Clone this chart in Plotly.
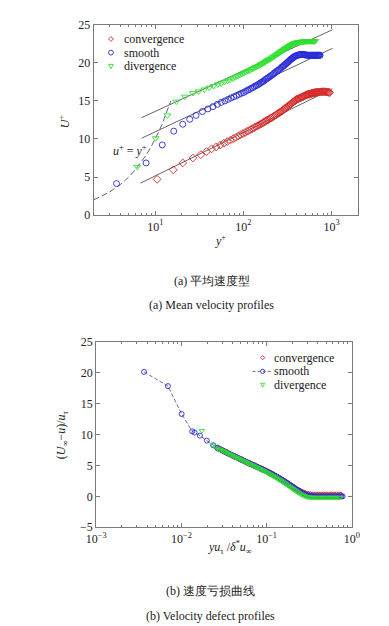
import plotly.graph_objects as go

W, H = 389, 626

# ---------------- (a) mean velocity profiles ----------------
conv_yp = [10.5, 16.0, 20.5, 26.7, 32.8,
           38, 43.5, 49, 54.5, 60, 65.5, 71, 76.5, 82, 87.5, 93, 98.5,
           104, 110, 115, 121, 126, 132, 137, 143, 148, 154, 159, 165, 170, 176, 181, 187, 192, 198,
           205, 212, 219, 226, 233, 240, 247, 254, 261, 268, 275, 282, 289, 296, 303, 310, 317, 324,
           331, 338, 345, 352, 359, 366, 373, 380, 387, 394,
           400, 410, 420, 430, 440, 450, 460, 470, 480, 490, 500, 510, 520, 530, 540, 550, 560, 570,
           580, 590, 600, 610, 620, 630, 640, 650, 660, 670, 680, 690,
           700, 720, 740, 760, 780, 800, 820, 840, 860, 880, 900, 920, 940, 950]
conv_up = [4.7, 5.95, 6.85, 7.5, 7.93,
           8.35, 8.7, 8.95, 9.2, 9.45, 9.65, 9.85, 10.05, 10.2, 10.4, 10.55, 10.7,
           10.85, 11.0, 11.1, 11.25, 11.35, 11.5, 11.6, 11.7, 11.8, 11.9, 12.0, 12.1, 12.2, 12.3, 12.4,
           12.5, 12.55, 12.65,
           12.75, 12.85, 12.95, 13.05, 13.15, 13.25, 13.35, 13.45, 13.55, 13.6, 13.7, 13.8, 13.9, 14.0,
           14.1, 14.15, 14.25, 14.35, 14.45, 14.5, 14.6, 14.7, 14.75, 14.85, 14.9, 15.0, 15.05, 15.15,
           15.2, 15.25, 15.3, 15.35, 15.4, 15.45, 15.5, 15.55, 15.6, 15.65, 15.7, 15.75, 15.8, 15.82,
           15.85, 15.88, 15.9, 15.93, 15.95, 15.97, 16.0, 16.02, 16.04, 16.06, 16.08, 16.1, 16.1, 16.12,
           16.13, 16.14,
           16.15, 16.16, 16.18, 16.2, 16.2, 16.2, 16.2, 16.2, 16.2, 16.18, 16.16, 16.15, 16.13, 16.1]

smooth_yp = [3.64, 7.87, 12.0, 16.2, 20.5, 24.6, 29.0, 34.2,
             39.5, 45, 50.5, 56, 61.5, 67, 72.5, 78, 83.5, 89, 94.5,
             100, 105.5, 111, 116.5, 122, 127.5, 133, 138.5, 144, 149.5, 155, 160.5, 166, 171.5, 177,
             182.5, 188, 193.5,
             200, 207, 214, 221, 228, 235, 242, 249, 256, 263, 270, 277, 284, 291, 298, 305, 312, 319,
             326, 333, 340, 347, 354, 361, 368, 375, 382, 389,
             400, 410, 420, 430, 440, 450, 460, 470, 480, 490, 500, 510, 520, 530, 540, 550, 560, 570,
             580, 590, 600, 610, 620, 630, 640, 650, 660, 670, 680, 690, 700, 710, 720, 730, 740]
smooth_up = [4.14, 6.85, 9.22, 11.03, 11.94, 12.59, 13.1, 13.6,
             13.95, 14.25, 14.55, 14.8, 15.0, 15.2, 15.4, 15.55, 15.7, 15.85, 16.0,
             16.1, 16.25, 16.4, 16.5, 16.65, 16.75, 16.9, 17.0, 17.1, 17.2, 17.35, 17.45, 17.55, 17.65,
             17.8, 17.9, 18.0, 18.1,
             18.2, 18.35, 18.45, 18.6, 18.7, 18.85, 18.95, 19.05, 19.15, 19.25, 19.4, 19.5, 19.6, 19.7,
             19.8, 19.9, 20.0, 20.1, 20.2, 20.3, 20.4, 20.5, 20.55, 20.65, 20.7, 20.8, 20.85, 20.9,
             20.95, 21.0, 21.03, 21.06, 21.08, 21.1, 21.1, 21.1, 21.1, 21.08, 21.05, 21.03, 21.02, 21.0,
             21.0, 21.0, 21.0, 21.0, 21.0, 21.0, 21.0, 21.0, 21.0, 21.0, 21.0, 21.0, 21.0, 21.0, 21.0,
             21.0, 21.0, 21.0, 21.0, 21.0, 21.0]

div_yp = [6.24, 10.1, 13.7, 17.3, 21.7, 26.7, 31,
          36, 41, 46, 51, 56, 61, 66, 71, 76, 81, 86, 91, 96,
          101, 106.5, 112, 117.5, 123, 128.5, 134, 139.5, 145, 150.5, 156, 161.5, 167, 172.5, 178,
          183.5, 189, 194.5,
          201, 208, 215, 222, 229, 236, 243, 250, 257, 264, 271, 278, 285, 292, 299, 306, 313, 320,
          327, 334, 341, 348, 355, 362, 369, 376, 383, 390,
          400, 410, 420, 430, 440, 450, 460, 470, 480, 490, 500, 510, 520, 530, 540, 550, 560, 570,
          580, 590, 600, 610, 620, 630, 640, 650]
div_up = [6.34, 10.09, 13.1, 14.9, 15.56, 16.03, 16.25,
          16.5, 16.75, 16.95, 17.15, 17.3, 17.5, 17.65, 17.8, 17.95, 18.1, 18.25, 18.4, 18.55,
          18.65, 18.8, 18.9, 19.0, 19.15, 19.25, 19.35, 19.45, 19.55, 19.65, 19.75, 19.85, 19.95,
          20.05, 20.15, 20.25, 20.35, 20.45,
          20.5, 20.6, 20.75, 20.85, 20.95, 21.05, 21.15, 21.25, 21.35, 21.45, 21.55, 21.6, 21.7, 21.8,
          21.85, 21.95, 22.0, 22.1, 22.15, 22.2, 22.3, 22.35, 22.4, 22.45, 22.5, 22.55, 22.6, 22.62,
          22.65, 22.68, 22.7, 22.72, 22.74, 22.76, 22.78, 22.8, 22.8, 22.82, 22.82, 22.84, 22.84,
          22.85, 22.85, 22.85, 22.85, 22.85, 22.85, 22.85, 22.85, 22.85, 22.85, 22.85, 22.85, 22.85]

# log-law reference lines (end points)
conv_law_yp = [6.8, 1020]
conv_law_up = [4.2, 16.6]
smooth_law_yp = [7.0, 1020]
smooth_law_up = [10.1, 21.9]
div_law_yp = [7.0, 1020]
div_law_up = [12.8, 24.35]

# viscous sublayer u+ = y+
visc_yp = [2, 2.5, 3, 4, 5, 6, 7, 8, 9, 10, 11, 12, 13, 14, 15]
visc_up = [2, 2.5, 3, 4, 5, 6, 7, 8, 9, 10, 11, 12, 13, 14, 15]

top_xticks = [10, 100, 1000]
top_xticktext = ["10<sup>1</sup>", "10<sup>2</sup>", "10<sup>3</sup>"]
top_yticks = [0, 5, 10, 15, 20, 25]

# ---------------- (b) velocity defect profiles ----------------
sm_eta = [0.00364, 0.00695, 0.01006, 0.0134, 0.01426, 0.0165, 0.0199, 0.0236,
          0.0265, 0.0277, 0.029, 0.0303, 0.0317, 0.0331, 0.0346, 0.0362, 0.0378, 0.0395, 0.0413,
          0.0432, 0.0451, 0.0472, 0.0493, 0.0515, 0.0538, 0.0563, 0.0588, 0.0615, 0.0642, 0.0671,
          0.0702, 0.0733, 0.0766, 0.0801, 0.0837, 0.0875, 0.0914, 0.0955, 0.0998, 0.104, 0.109,
          0.114, 0.119, 0.124, 0.13, 0.136, 0.142, 0.148, 0.155, 0.162, 0.169, 0.177, 0.185, 0.193,
          0.202, 0.211, 0.22, 0.23, 0.24, 0.251, 0.263, 0.274, 0.287, 0.3, 0.313, 0.327, 0.342,
          0.357, 0.373, 0.39, 0.408, 0.426, 0.445, 0.465, 0.486, 0.508, 0.531, 0.555, 0.58, 0.606,
          0.633, 0.661, 0.691, 0.722, 0.755, 0.78]
sm_def = [20.1, 17.8, 13.3, 10.5, 10.3, 9.8, 9.0, 8.25,
          7.8, 7.68, 7.55, 7.42, 7.28, 7.15, 7.0, 6.88, 6.75, 6.62, 6.5,
          6.38, 6.25, 6.12, 6.0, 5.88, 5.75, 5.62, 5.5, 5.38, 5.26, 5.14,
          5.02, 4.9, 4.78, 4.66, 4.54, 4.42, 4.3, 4.17, 4.04, 3.92, 3.78,
          3.64, 3.5, 3.36, 3.2, 3.05, 2.9, 2.75, 2.58, 2.42, 2.26, 2.08, 1.9, 1.73,
          1.55, 1.38, 1.2, 1.03, 0.86, 0.7, 0.55, 0.42, 0.3, 0.2, 0.12, 0.07, 0.04,
          0.02, 0.0, 0.0, 0.0, 0.0, 0.0, 0.0, 0.0, 0.0, 0.0, 0.0, 0.0, 0.0,
          0.0, 0.0, 0.0, 0.0, 0.0, 0.0]

cv_eta = [0.0265, 0.0277, 0.029, 0.0303, 0.0317, 0.0331, 0.0346, 0.0362, 0.0378, 0.0395, 0.0413,
          0.0432, 0.0451, 0.0472, 0.0493, 0.0515, 0.0538, 0.0563, 0.0588, 0.0615, 0.0642, 0.0671,
          0.0702, 0.0733, 0.0766, 0.0801, 0.0837, 0.0875, 0.0914, 0.0955, 0.0998, 0.104, 0.109,
          0.114, 0.119, 0.124, 0.13, 0.136, 0.142, 0.148, 0.155, 0.162, 0.169, 0.177, 0.185, 0.193,
          0.202, 0.211, 0.22, 0.23, 0.24, 0.251, 0.263, 0.274, 0.287, 0.3, 0.313, 0.327, 0.342,
          0.357, 0.373, 0.39, 0.408, 0.426, 0.445, 0.465, 0.486, 0.508, 0.531, 0.555, 0.58, 0.606,
          0.633, 0.661, 0.691, 0.722, 0.745]
cv_def = [7.8, 7.68, 7.55, 7.42, 7.28, 7.15, 7.0, 6.88, 6.75, 6.62, 6.5,
          6.38, 6.25, 6.12, 6.0, 5.88, 5.75, 5.62, 5.5, 5.38, 5.26, 5.14,
          5.02, 4.9, 4.78, 4.66, 4.54, 4.42, 4.3, 4.17, 4.04, 3.92, 3.78,
          3.64, 3.5, 3.36, 3.2, 3.05, 2.9, 2.75, 2.58, 2.42, 2.26, 2.08, 1.9, 1.73,
          1.55, 1.38, 1.2, 1.03, 0.9, 0.8, 0.65, 0.52, 0.42, 0.34, 0.28, 0.24, 0.22,
          0.2, 0.2, 0.2, 0.2, 0.2, 0.2, 0.2, 0.2, 0.2, 0.2, 0.2, 0.2, 0.2,
          0.2, 0.2, 0.2, 0.2, 0.2]

dv_eta = [0.0174, 0.0235,
          0.0265, 0.0277, 0.029, 0.0303, 0.0317, 0.0331, 0.0346, 0.0362, 0.0378, 0.0395, 0.0413,
          0.0432, 0.0451, 0.0472, 0.0493, 0.0515, 0.0538, 0.0563, 0.0588, 0.0615, 0.0642, 0.0671,
          0.0702, 0.0733, 0.0766, 0.0801, 0.0837, 0.0875, 0.0914, 0.0955, 0.0998, 0.104, 0.109,
          0.114, 0.119, 0.124, 0.13, 0.136, 0.142, 0.148, 0.155, 0.162, 0.169, 0.177, 0.185, 0.193,
          0.202, 0.211, 0.22, 0.23, 0.24, 0.251, 0.263, 0.274, 0.287, 0.3, 0.313, 0.327, 0.342,
          0.357, 0.373, 0.39, 0.408, 0.426, 0.445, 0.465, 0.486, 0.508, 0.531, 0.555, 0.58, 0.606,
          0.633, 0.661, 0.691, 0.722]
dv_def = [10.6, 8.3,
          7.75, 7.62, 7.5, 7.38, 7.25, 7.1, 6.97, 6.84, 6.7, 6.58, 6.45,
          6.33, 6.2, 6.07, 5.95, 5.82, 5.7, 5.57, 5.44, 5.31, 5.18, 5.05,
          4.92, 4.8, 4.67, 4.54, 4.41, 4.28, 4.15, 4.01, 3.87, 3.74, 3.59,
          3.44, 3.29, 3.14, 2.97, 2.8, 2.64, 2.48, 2.3, 2.12, 1.95, 1.76, 1.57, 1.39,
          1.2, 1.02, 0.85, 0.67, 0.5, 0.35, 0.2, 0.08, -0.02, -0.1, -0.15, -0.18, -0.2,
          -0.2, -0.2, -0.2, -0.2, -0.2, -0.2, -0.2, -0.2, -0.2, -0.2, -0.2, -0.2, -0.2,
          -0.2, -0.2, -0.2, -0.2]

bot_xticks = [0.001, 0.01, 0.1, 1]
bot_xticktext = ["10<sup>\u22123</sup>", "10<sup>\u22122</sup>", "10<sup>\u22121</sup>", "10<sup>0</sup>"]
bot_yticks = [-5, 0, 5, 10, 15, 20, 25]

for a, b in [(conv_yp, conv_up), (smooth_yp, smooth_up), (div_yp, div_up),
             (sm_eta, sm_def), (cv_eta, cv_def), (dv_eta, dv_def)]:
    assert len(a) == len(b), (len(a), len(b))

RED = "#d42a2a"
BLUE = "#2a2ad8"
GREEN = "#2ee02e"
FRAME = "#7a7a7a"
SERIF = "Times New Roman, Liberation Serif, DejaVu Serif, serif"


def px_x(p):
    return p / W


def px_y(p):
    return 1 - p / H


fig = go.Figure()

# top panel
for xs, ys in [(conv_law_yp, conv_law_up), (smooth_law_yp, smooth_law_up), (div_law_yp, div_law_up)]:
    fig.add_trace(go.Scatter(x=xs, y=ys, mode="lines", line=dict(color="#3c3c3c", width=0.8),
                             showlegend=False, hoverinfo="skip", xaxis="x", yaxis="y"))
fig.add_trace(go.Scatter(x=visc_yp, y=visc_up, mode="lines",
                         line=dict(color="#555555", width=0.9, dash="6px,3px"),
                         showlegend=False, xaxis="x", yaxis="y"))

for xs, ys, col, sym in [(conv_yp, conv_up, RED, "diamond-open"),
                         (smooth_yp, smooth_up, BLUE, "circle-open"),
                         (div_yp, div_up, GREEN, "triangle-down-open")]:
    fig.add_trace(go.Scatter(x=xs, y=ys, mode="markers",
                             marker=dict(symbol=sym, size=6, color=col, line=dict(width=0.9, color=col)),
                             showlegend=False, xaxis="x", yaxis="y"))

# bottom panel
fig.add_trace(go.Scatter(x=cv_eta, y=cv_def, mode="markers",
                         marker=dict(symbol="diamond-open", size=5, color=RED, line=dict(width=0.9, color=RED)),
                         showlegend=False, xaxis="x2", yaxis="y2"))
fig.add_trace(go.Scatter(x=sm_eta, y=sm_def, mode="lines+markers",
                         line=dict(color="#5a5a96", width=0.9, dash="4px,2px"),
                         marker=dict(symbol="circle-open", size=5, color=BLUE, line=dict(width=0.9, color=BLUE)),
                         showlegend=False, xaxis="x2", yaxis="y2"))
fig.add_trace(go.Scatter(x=dv_eta, y=dv_def, mode="markers",
                         marker=dict(symbol="triangle-down-open", size=5, color=GREEN, line=dict(width=0.9, color=GREEN)),
                         showlegend=False, xaxis="x2", yaxis="y2"))

axis_common = dict(showgrid=False, zeroline=False, showline=True, linecolor=FRAME, linewidth=1,
                   mirror="allticks", ticks="inside", tickcolor=FRAME, ticklen=4,
                   tickfont=dict(family=SERIF, size=12, color="#222222"))

minor_top = [m * 10 ** e for e in range(0, 4) for m in range(2, 10) if 2 <= m * 10 ** e <= 2000]
minor_bot = [m * 10.0 ** e for e in range(-3, 0) for m in range(2, 10)]

fig.update_layout(
    width=W, height=H, margin=dict(l=0, r=0, t=0, b=0),
    paper_bgcolor="white", plot_bgcolor="white", showlegend=False,
    font=dict(family=SERIF, size=12, color="#1a1a1a"),
    xaxis=dict(axis_common, type="log", range=[0.30103, 3.30103], domain=[79.3 / W, 356.7 / W],
               tickvals=top_xticks, ticktext=top_xticktext, anchor="y",
               minor=dict(ticks="inside", tickvals=minor_top, ticklen=2, tickcolor=FRAME)),
    yaxis=dict(axis_common, range=[0, 25], domain=[px_y(204.7), px_y(10)], tickvals=top_yticks,
               anchor="x"),
    xaxis2=dict(axis_common, type="log", range=[-3, 0], domain=[82 / W, 350 / W],
                tickvals=bot_xticks, ticktext=bot_xticktext, anchor="y2",
                minor=dict(ticks="inside", tickvals=minor_bot, ticklen=2, tickcolor=FRAME)),
    yaxis2=dict(axis_common, range=[-5, 25], domain=[px_y(524), px_y(334)], tickvals=bot_yticks,
                anchor="x2"),
)

ann = []
shapes = []


def text(x, y, s, size=12, anchor="center", angle=0):
    ann.append(dict(x=px_x(x), y=px_y(y), xref="paper", yref="paper", text=s, showarrow=False,
                    xanchor=anchor, yanchor="middle", textangle=angle,
                    font=dict(family=SERIF, size=size, color="#1a1a1a")))


def marker_shape(kind, cx, cy, col, r=2.5):
    if kind == "circle":
        shapes.append(dict(type="circle", xref="paper", yref="paper",
                           x0=px_x(cx - r), x1=px_x(cx + r), y0=px_y(cy + r), y1=px_y(cy - r),
                           line=dict(color=col, width=0.9)))
    elif kind == "diamond":
        pts = [(cx, cy - r), (cx + r, cy), (cx, cy + r), (cx - r, cy)]
        path = "M " + " L ".join(f"{px_x(a):.5f},{px_y(b):.5f}" for a, b in pts) + " Z"
        shapes.append(dict(type="path", xref="paper", yref="paper", path=path,
                           line=dict(color=col, width=0.9)))
    else:
        pts = [(cx - r, cy - r * 0.8), (cx + r, cy - r * 0.8), (cx, cy + r)]
        path = "M " + " L ".join(f"{px_x(a):.5f},{px_y(b):.5f}" for a, b in pts) + " Z"
        shapes.append(dict(type="path", xref="paper", yref="paper", path=path,
                           line=dict(color=col, width=0.9)))


legend_names = ["convergence", "smooth", "divergence"]
legend_kinds = ["diamond", "circle", "triangle"]
legend_cols = [RED, BLUE, GREEN]

# top legend
for i, (nm, kd, cl) in enumerate(zip(legend_names, legend_kinds, legend_cols)):
    yy = 24.5 + 14 * i
    marker_shape(kd, 97.5, yy, cl)
    text(109, yy, nm, anchor="left")

# bottom legend
for i, (nm, kd, cl) in enumerate(zip(legend_names, legend_kinds, legend_cols)):
    yy = 350.5 + 14 * i
    marker_shape(kd, 256.5, yy, cl, r=2.2)
    text(266, yy, nm, anchor="left")
shapes.append(dict(type="line", xref="paper", yref="paper", x0=px_x(246), x1=px_x(267),
                   y0=px_y(364.5), y1=px_y(364.5), line=dict(color="#5a5a96", width=0.9, dash="3px,2px")))

# annotation and axis titles
text(117, 139, "<i>u</i><sup>+</sup> = <i>y</i><sup>+</sup>", size=12)
text(212, 231, "<i>y</i><sup>+</sup>", size=12)
text(49, 109, "<i>U</i><sup>+</sup>", size=12, angle=-90)
text(222, 545, "<i>yu</i><sub>\u03c4</sub> /<i>\u03b4</i><sup>*</sup><i>u</i><sub>\u221e</sub>", size=12)
text(47, 429, "(<i>U</i><sub>\u221e</sub>\u2212<i>u</i>)/<i>u</i><sub>\u03c4</sub>", size=12, angle=-90)

# captions
text(203, 272, "(a) 平均速度型", size=12)
text(203, 297, "(a) Mean velocity profiles", size=12)
text(202, 589, "(b) 速度亏损曲线", size=12)
text(202, 615, "(b) Velocity defect profiles", size=12)

fig.update_layout(annotations=ann, shapes=shapes)

fig.write_html("out.html")
